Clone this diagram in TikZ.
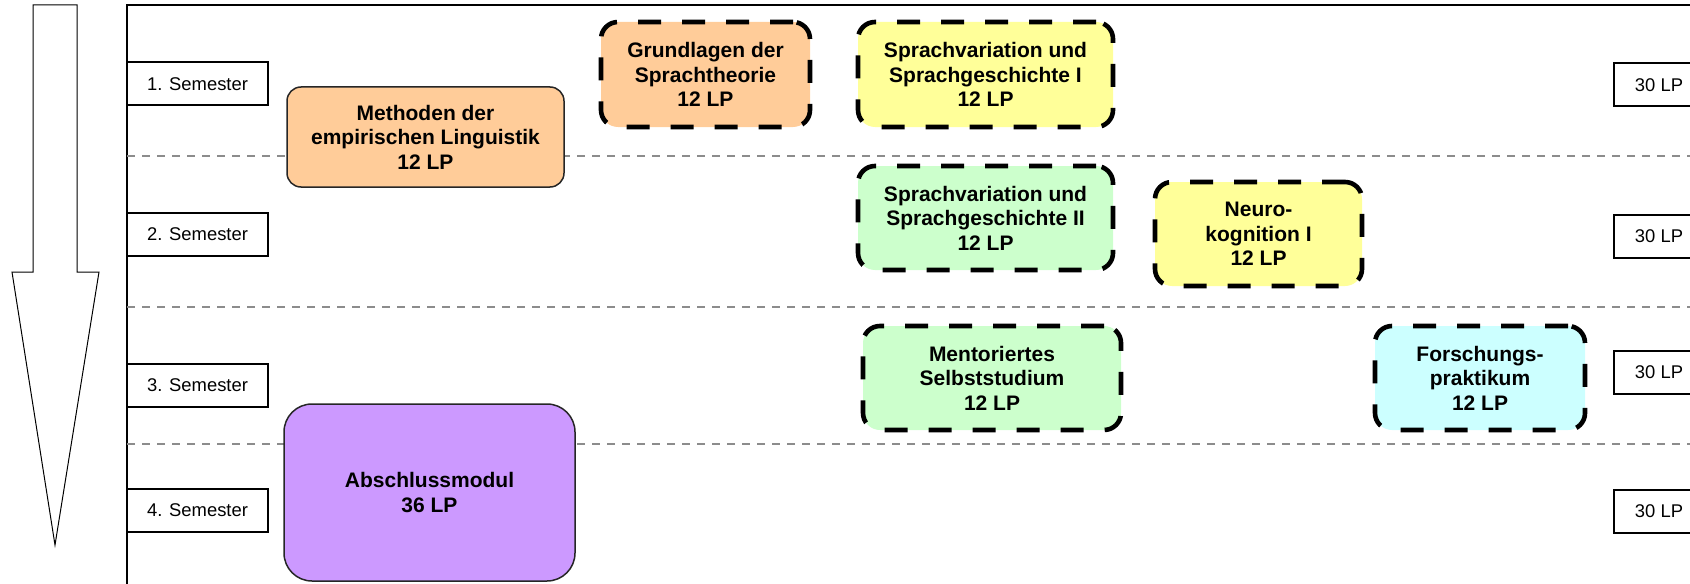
\documentclass[tikz,border=0pt]{standalone}
\usepackage{fontspec}
\setmainfont{Liberation Sans}
\definecolor{orangefill}{HTML}{FFCC99}
\definecolor{gelbfill}{HTML}{FFFF99}
\definecolor{gruenfill}{HTML}{CCFFCC}
\definecolor{cyanfill}{HTML}{CCFFFF}
\definecolor{lilafill}{HTML}{CC99FF}

\begin{document}
\begin{tikzpicture}[x=0.5pt, y=-0.5pt,
    modul/.style={draw=black!85, line width=0.75pt, rounded corners=7pt, inner sep=0pt, align=center,
        font=\fontsize{10.5}{12.3}\selectfont\bfseries},
    wahlmodul/.style={modul, draw=black, line width=2.3pt, rounded corners=8.5pt, dash pattern=on 11.5pt off 10.5pt},
    semester/.style={draw=black, line width=1pt, inner sep=0pt, minimum width=70.5pt, minimum height=21.5pt,
        font=\fontsize{9.2}{11}\selectfont},
    punkte/.style={semester, minimum width=45pt},
    trenner/.style={draw=black!45, line width=1pt, dash pattern=on 4pt off 3.5pt}]

\useasboundingbox (0,0) rectangle (1690,583);

% Zeitpfeil
\draw[line width=0.5pt] (33,5) -- (77,5) -- (77,272) -- (99,272) -- (55,545) -- (12,272) -- (33,272) -- cycle;

% Rahmen und Trennlinien
\draw[line width=1pt] (127,600) -- (127,5) -- (1700,5);
\draw[trenner] (127,156) -- (1690,156);
\draw[trenner] (127,307) -- (1690,307);
\draw[trenner] (127,444) -- (1690,444);

% Semester
\node[semester] (sem1) at (197.5,84) {1. Semester};
\node[semester] (sem2) at (197.5,234.5) {2. Semester};
\node[semester] (sem3) at (197.5,385.5) {3. Semester};
\node[semester] (sem4) at (197.5,510.5) {4. Semester};

\node[punkte] (lp1) at (1659,85) {30 LP};
\node[punkte] (lp2) at (1659,236) {30 LP};
\node[punkte] (lp3) at (1659,372) {30 LP};
\node[punkte] (lp4) at (1659,511) {30 LP};

% Module
\node[modul, fill=orangefill, minimum width=138.5pt, minimum height=50pt] (meth) at (425.5,137)
    {Methoden der\\empirischen Linguistik\\12 LP};
\node[wahlmodul, fill=orangefill, minimum width=104.5pt, minimum height=52.5pt] (grund) at (705.5,74.5)
    {Grundlagen der\\Sprachtheorie\\12 LP};
\node[wahlmodul, fill=gelbfill, minimum width=127.5pt, minimum height=52.5pt] (spv1) at (985.5,74.5)
    {Sprachvariation und\\Sprachgeschichte I\\12 LP};
\node[wahlmodul, fill=gruenfill, minimum width=127.5pt, minimum height=52pt] (spv2) at (985.5,218)
    {Sprachvariation und\\Sprachgeschichte II\\12 LP};
\node[wahlmodul, fill=gelbfill, minimum width=103.5pt, minimum height=52pt] (neuro) at (1258.5,234)
    {Neuro-\\kognition I\\12 LP};
\node[wahlmodul, fill=gruenfill, minimum width=129pt, minimum height=52pt] (mentor) at (992,378)
    {Mentoriertes\\Selbststudium\\12 LP};
\node[wahlmodul, fill=cyanfill, minimum width=105pt, minimum height=52pt] (forsch) at (1480,378)
    {Forschungs-\\praktikum\\12 LP};
\node[modul, fill=lilafill, rounded corners=14pt, minimum width=145.5pt, minimum height=88.5pt] (abschluss) at (429.5,492.5)
    {Abschlussmodul\\36 LP};

\end{tikzpicture}
\end{document}
